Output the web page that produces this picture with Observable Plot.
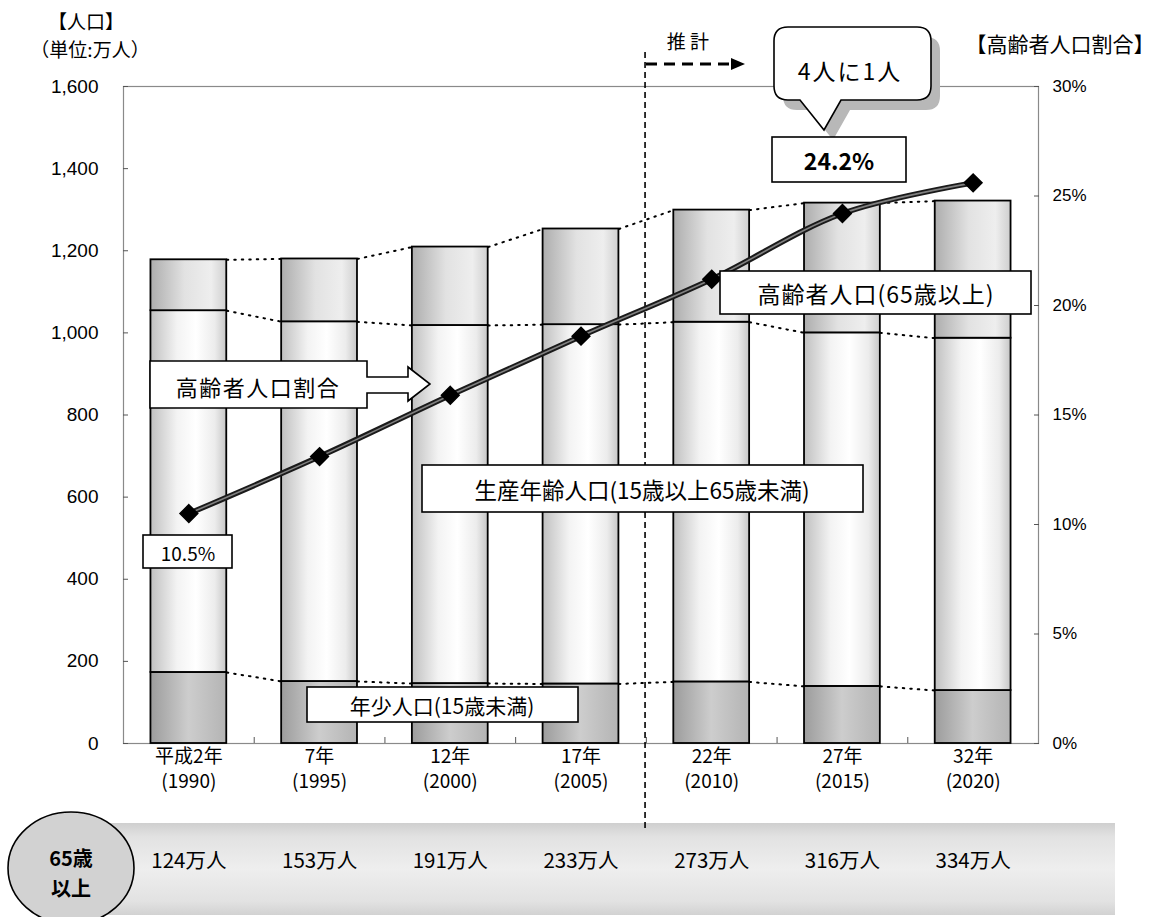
<!DOCTYPE html>
<html><head><meta charset="utf-8">
<script src="https://cdn.jsdelivr.net/npm/d3@7"></script>
<script src="https://cdn.jsdelivr.net/npm/@observablehq/plot@0.6"></script>
<style>body{margin:0;background:#fff;} svg{display:block}</style>
</head><body><div id="chart"></div>
<script>
// ---- data ----
const years = ["平成2年\n(1990)","7年\n(1995)","12年\n(2000)","17年\n(2005)","22年\n(2010)","27年\n(2015)","32年\n(2020)"];
const youth = [173,151,146,145,150,139,129];          // 年少人口
const working = [881,876,872,875,876,861,858];        // 生産年齢人口
const elderly = [124,153,191,233,273,316,334];        // 高齢者人口
const elderlyRatio = [10.5,13.1,15.9,18.6,21.2,24.2,25.6]; // 高齢者人口割合 (%)
const elderlyLabels = ["124万人","153万人","191万人","233万人","273万人","316万人","334万人"];
const leftTicks = [0,200,400,600,800,1000,1200,1400,1600];
const rightTicks = [0,5,10,15,20,25,30];

const CJK = "'Noto Sans CJK JP', sans-serif";
const NUM = "'Liberation Sans', 'Noto Sans CJK JP', sans-serif";
const HW = 0.29;
const toLeft = p => p * 1600 / 30;
const idx = d3.range(years.length);

const lev1 = youth;
const lev2 = youth.map((v,i) => v + working[i]);
const lev3 = lev2.map((v,i) => v + elderly[i]);
const links = [lev1, lev2, lev3].flatMap(L => idx.slice(0,-1).map(i => ({i, a: L[i], b: L[i+1]})));

const chart = Plot.plot({
  width: 1162, height: 917,
  marginLeft: 123, marginRight: 124, marginTop: 86, marginBottom: 174,
  x: {domain: [-0.5, 6.5], axis: null},
  y: {domain: [0, 1600], axis: null},
  style: {fontFamily: NUM, fontSize: "18px", color: "#000", background: "#fff"},
  marks: [
    Plot.frame({stroke: "#8a8a8a", strokeWidth: 1.2}),
    Plot.axisY(leftTicks, {anchor: "left", tickSize: -5, tickPadding: 30, tickFormat: d3.format(","), fontSize: 19, label: null, stroke: "#555"}),
    Plot.axisY(rightTicks.map(toLeft), {anchor: "right", tickSize: -5, tickPadding: 19, tickFormat: d => Math.round(d * 30 / 1600) + "%", fontSize: 17, label: null, stroke: "#555"}),
    Plot.axisX([0.5,1.5,2.5,3.5,4.5,5.5], {anchor: "bottom", tickSize: -6, fill: "none", stroke: "#555"}),
    Plot.ruleX([3.49], {y1: 1683, y2: -210, stroke: "#000", strokeWidth: 1.6, strokeDasharray: "6,4"}),
    Plot.link(links, {x1: d => d.i + HW, x2: d => d.i + 1 - HW, y1: "a", y2: "b", stroke: "#000", strokeWidth: 2, strokeDasharray: "1.5,6", strokeLinecap: "round"}),
    Plot.rect(idx, {x1: i => i - HW, x2: i => i + HW, y1: 0, y2: i => lev1[i], fill: "url(#gY)", stroke: "#000", strokeWidth: 1.8}),
    Plot.rect(idx, {x1: i => i - HW, x2: i => i + HW, y1: i => lev1[i], y2: i => lev2[i], fill: "url(#gW)", stroke: "#000", strokeWidth: 1.8}),
    Plot.rect(idx, {x1: i => i - HW, x2: i => i + HW, y1: i => lev2[i], y2: i => lev3[i], fill: "url(#gE)", stroke: "#000", strokeWidth: 1.8}),
    Plot.line(idx, {x: i => i, y: i => toLeft(elderlyRatio[i]), curve: "catmull-rom", stroke: "#1a1a1a", strokeWidth: 5.5}),
    Plot.line(idx, {x: i => i, y: i => toLeft(elderlyRatio[i]), curve: "catmull-rom", stroke: "#808080", strokeWidth: 1.6}),
    Plot.dot(idx, {x: i => i, y: i => toLeft(elderlyRatio[i]), symbol: "diamond2", r: 8, fill: "#000", stroke: "#000"}),
    Plot.text(idx, {x: i => i, frameAnchor: "bottom", dy: 44.5, text: i => years[i], lineHeight: 1.32, fontSize: 19, fontFamily: CJK}),
    Plot.text(idx, {x: i => i, frameAnchor: "bottom", dy: 124, text: i => elderlyLabels[i], fontSize: 20.5, fontFamily: CJK})
  ]
});

document.getElementById("chart").appendChild(chart);
const svg = d3.select(chart);

// gradients
const defs = svg.insert("defs", ":first-child");
function grad(id, stops, vertical) {
  const g = defs.append("linearGradient").attr("id", id).attr("x1", 0).attr("y1", 0)
    .attr("x2", vertical ? 0 : 1).attr("y2", vertical ? 1 : 0);
  stops.forEach(([o, c]) => g.append("stop").attr("offset", o).attr("stop-color", c));
}
grad("gE", [[0,"#adadad"],[0.45,"#e2e2e2"],[0.8,"#eeeeee"],[1,"#cfcfcf"]]);
grad("gW", [[0,"#c0c0c0"],[0.35,"#f3f3f3"],[0.6,"#ffffff"],[0.85,"#ececec"],[1,"#c6c6c6"]]);
grad("gY", [[0,"#9c9c9c"],[0.5,"#cdcdcd"],[1,"#b4b4b4"]]);
grad("gBand", [[0,"#cfcfcf"],[0.15,"#e2e2e2"],[0.5,"#eeeeee"],[0.85,"#e2e2e2"],[1,"#d2d2d2"]], true);

// background table band (behind plot marks)
const bg = svg.insert("g", "g");
bg.append("rect").attr("x", 100).attr("y", 823).attr("width", 1015).attr("height", 92).attr("fill", "url(#gBand)");

// circle label
const circ = svg.append("g").attr("font-family", CJK);
circ.append("ellipse").attr("cx", 71).attr("cy", 868).attr("rx", 63).attr("ry", 56).attr("fill", "#d2d2d2").attr("stroke", "#000").attr("stroke-width", 1.6);
circ.append("text").attr("x", 71).attr("y", 857).attr("text-anchor", "middle").attr("dominant-baseline", "central").attr("font-size", 20).attr("font-weight", 700).text("65歳");
circ.append("text").attr("x", 71).attr("y", 887).attr("text-anchor", "middle").attr("dominant-baseline", "central").attr("font-size", 20).attr("font-weight", 700).text("以上");

// annotations
const ann = svg.append("g").attr("font-family", CJK);
function label(x, y, str, size, opts = {}) {
  const t = ann.append("text").attr("x", x).attr("y", y).attr("text-anchor", opts.anchor || "middle")
    .attr("dominant-baseline", "central").attr("font-size", size).text(str);
  if (opts.weight) t.attr("font-weight", opts.weight);
  if (opts.ls) t.attr("letter-spacing", opts.ls);
  return t;
}
function box(x0, y0, x1, y1) {
  ann.append("rect").attr("x", x0).attr("y", y0).attr("width", x1 - x0).attr("height", y1 - y0)
    .attr("fill", "#fff").attr("stroke", "#000").attr("stroke-width", 1.6);
}

// titles
label(86, 20, "【人口】", 19);
label(90, 48, "（単位:万人）", 19);
label(1060, 43, "【高齢者人口割合】", 21);

// 推計 arrow
label(688, 40, "推 計", 19);
ann.append("line").attr("x1", 646).attr("x2", 732).attr("y1", 64).attr("y2", 64)
  .attr("stroke", "#000").attr("stroke-width", 3).attr("stroke-dasharray", "11,7");
ann.append("path").attr("d", "M731,58 L745,64 L731,70 Z").attr("fill", "#000");

// speech bubble
const bubble = "M788,27 H917 Q931,27 931,41 V86 Q931,100 917,100 H841 L824,130 L800,100 H788 Q774,100 774,86 V41 Q774,27 788,27 Z";
ann.append("path").attr("d", bubble).attr("transform", "translate(9,10)").attr("fill", "#b8b8b8");
ann.append("path").attr("d", bubble).attr("fill", "#fff").attr("stroke", "#000").attr("stroke-width", 1.6);
label(850, 70, "4人に1人", 23, {ls: 2});

box(772, 137, 906, 182);
label(839, 160, "24.2%", 23, {weight: 700});

box(720, 271, 1031, 314);
label(876, 293, "高齢者人口(65歳以上)", 23, {ls: 1});

box(422, 465, 863, 512);
label(642, 489, "生産年齢人口(15歳以上65歳未満)", 22.5);

box(307, 687, 578, 722);
label(442, 705, "年少人口(15歳未満)", 21);

box(143, 535, 232, 568);
label(188, 552, "10.5%", 19);

// 高齢者人口割合 arrow callout
ann.append("path").attr("d", "M150,361 L367,361 L367,377 L408,377 L408,367 L430,384 L408,401 L408,393 L367,393 L367,408 L150,408 Z")
  .attr("fill", "#fff").attr("stroke", "#000").attr("stroke-width", 1.6);
label(258, 386, "高齢者人口割合", 22, {ls: 1.5});
</script>
</body></html>
